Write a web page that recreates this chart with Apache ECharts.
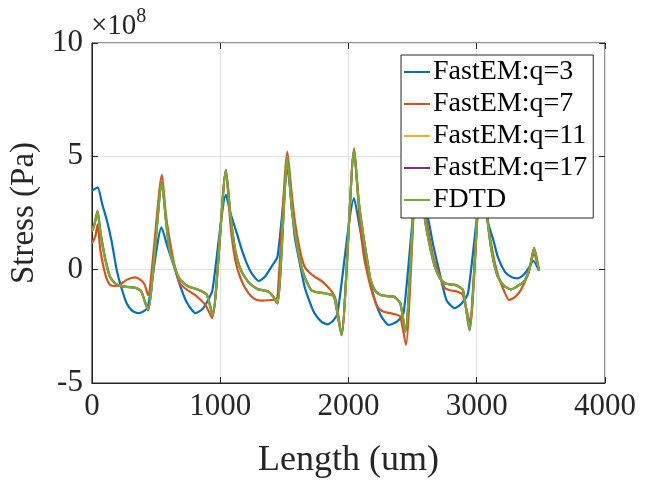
<!DOCTYPE html>
<html>
<head>
<meta charset="utf-8">
<script src="https://cdn.jsdelivr.net/npm/echarts@6.0.0/dist/echarts.min.js"></script>
<style>
  html, body { margin: 0; padding: 0; background: #fff; }
  #chart { width: 649px; height: 485px; }
</style>
</head>
<body>
<div id="chart"></div>
<script>
// 应力沿长度分布：FastEM 不同阶数 q 与 FDTD 对比，纵轴单位 ×10^8 Pa
const xTicks = [0, 1000, 2000, 3000, 4000];
const yTicks = [-5, 0, 5, 10];

const seriesNames = ['FastEM:q=3', 'FastEM:q=7', 'FastEM:q=11', 'FastEM:q=17', 'FDTD'];
const seriesColors = ['#0072BD', '#D95319', '#EDB120', '#7E2F8E', '#77AC30'];

// [长度 um, 应力 ×1e8 Pa]
const q3Data = [
  [0, 3.48], [45, 3.63], [80, 2.9], [116, 2.19], [152, 1.3], [193, 0], [230, -0.8], [270, -1.47],
  [315, -1.82], [358, -1.92], [400, -1.85], [437, -1.63], [543, 1.87], [590, 1.0], [641, 0.13],
  [690, -0.75], [740, -1.45], [808, -1.92], [860, -1.75], [905, -1.35], [940, -0.9], [1045, 3.3],
  [1080, 2.5], [1130, 1.6], [1170, 0.85], [1207, 0.28], [1250, -0.2], [1302, -0.5], [1350, -0.3],
  [1400, 0.13], [1447, 0.57], [1525, 4.4], [1581, 1.46], [1620, 0.3], [1658, -0.75], [1700, -1.45],
  [1735, -1.92], [1790, -2.3], [1838, -2.41], [1880, -2.25], [1915, -1.92], [2044, 3.15], [2090, 1.8],
  [2121, 0.87], [2160, -0.3], [2198, -1.19], [2250, -2.0], [2314, -2.44], [2378, -2.29], [2430, -1.92],
  [2540, 3.8], [2580, 3.0], [2623, 2.19], [2660, 1.1], [2700, 0.13], [2764, -1.34], [2829, -1.7],
  [2880, -1.5], [2932, -1.04], [3040, 3.6], [3087, 2.1], [3130, 1.3], [3164, 0.57], [3220, -0.1],
  [3270, -0.32], [3318, -0.38], [3370, -0.2], [3408, 0.1], [3440, 0.4], [3485, -0.04],
];

const q7Data = [
  [0, 1.16], [26, 1.46], [44, 2.0], [65, 0.9], [90, 0.13], [115, -0.4], [141, -0.67], [180, -0.72],
  [219, -0.67], [270, -0.45], [335, -0.34], [380, -0.45], [412, -0.67], [437, -1.12], [546, 4.18],
  [575, 2.5], [602, 1.46], [640, 0.3], [680, -0.55], [720, -0.8], [757, -0.95], [800, -1.1],
  [834, -1.26], [886, -1.56], [937, -2.14], [1045, 4.4], [1080, 2.0], [1117, 0.43], [1160, -0.4],
  [1220, -1.04], [1270, -1.3], [1323, -1.37], [1380, -1.35], [1426, -1.31], [1447, -1.2], [1524, 5.21],
  [1555, 3.5], [1581, 2.19], [1620, 0.9], [1658, 0.13], [1700, -0.15], [1735, -0.31], [1790, -0.5],
  [1838, -0.75], [1875, -1.0], [1902, -1.34], [1946, -2.88], [2044, 5.3], [2090, 2.0], [2120, 0.6],
  [2147, -0.16], [2180, -0.9], [2224, -1.63], [2270, -1.85], [2327, -1.92], [2370, -1.98], [2404, -2.07],
  [2448, -3.32], [2540, 5.2], [2580, 3.2], [2620, 1.8], [2660, 0.6], [2700, -0.1], [2750, -0.8],
  [2800, -0.92], [2840, -0.95], [2890, -1.1], [2944, -2.3], [3040, 5.0], [3090, 2.0], [3130, 0.6],
  [3164, -0.2], [3210, -0.9], [3253, -1.34], [3300, -1.2], [3344, -0.9], [3400, -0.2], [3445, 0.7],
  [3485, 0],
];

const q11Data = [
  [0, 1.7], [20, 2.02], [44, 2.62], [65, 1.72], [90, 0.88], [115, 0.2], [141, -0.3], [180, -0.6],
  [219, -0.71], [270, -0.75], [322, -0.77], [360, -0.84], [386, -0.96], [437, -1.8], [546, 3.9],
  [575, 2.32], [602, 1.0], [640, 0.2], [680, -0.37], [720, -0.61], [757, -0.74], [800, -0.82],
  [834, -0.89], [870, -0.99], [898, -1.11], [942, -2.02], [1045, 4.42], [1080, 2.42], [1117, 0.88],
  [1160, 0], [1220, -0.54], [1260, -0.74], [1297, -0.86], [1340, -0.91], [1375, -0.96], [1413, -1.18],
  [1447, -1.5], [1524, 4.98], [1560, 2.62], [1606, 0.88], [1650, -0.2], [1709, -0.89], [1760, -0.99],
  [1812, -1.03], [1860, -1.09], [1889, -1.18], [1946, -2.9], [2044, 5.38], [2080, 3.02], [2121, 1.32],
  [2150, 0.3], [2172, -0.44], [2210, -0.94], [2250, -1.11], [2300, -1.16], [2353, -1.18], [2404, -1.47],
  [2443, -2.75], [2540, 5.05], [2570, 3.62], [2597, 2.2], [2640, 0.9], [2674, 0.13], [2710, -0.34],
  [2751, -0.59], [2790, -0.64], [2829, -0.66], [2860, -0.74], [2893, -0.89], [2944, -2.68], [3040, 5.05],
  [3080, 2.42], [3120, 0.7], [3164, -0.3], [3210, -0.69], [3266, -0.86], [3320, -0.71], [3369, -0.52],
  [3410, 0], [3447, 0.96], [3485, -0.04],
];

const q17Data = [
  [0, 1.68], [20, 2.0], [44, 2.57], [65, 1.7], [90, 0.87], [115, 0.2], [141, -0.31], [180, -0.6],
  [219, -0.72], [270, -0.76], [322, -0.78], [360, -0.85], [386, -0.97], [437, -1.79], [546, 3.84],
  [575, 2.3], [602, 1.0], [640, 0.2], [680, -0.38], [720, -0.62], [757, -0.75], [800, -0.83],
  [834, -0.9], [870, -1.0], [898, -1.12], [942, -2.01], [1045, 4.38], [1080, 2.4], [1117, 0.87],
  [1160, 0], [1220, -0.55], [1260, -0.75], [1297, -0.87], [1340, -0.92], [1375, -0.97], [1413, -1.19],
  [1447, -1.49], [1524, 4.93], [1560, 2.6], [1606, 0.87], [1650, -0.2], [1709, -0.9], [1760, -1.0],
  [1812, -1.04], [1860, -1.1], [1889, -1.19], [1946, -2.89], [2044, 5.31], [2080, 3.0], [2121, 1.31],
  [2150, 0.3], [2172, -0.45], [2210, -0.95], [2250, -1.12], [2300, -1.17], [2353, -1.19], [2404, -1.48],
  [2443, -2.74], [2540, 5.0], [2570, 3.6], [2597, 2.19], [2640, 0.9], [2674, 0.13], [2710, -0.35],
  [2751, -0.6], [2790, -0.65], [2829, -0.67], [2860, -0.75], [2893, -0.9], [2944, -2.67], [3040, 5.0],
  [3080, 2.4], [3120, 0.7], [3164, -0.31], [3210, -0.7], [3266, -0.87], [3320, -0.72], [3369, -0.53],
  [3410, 0], [3447, 0.95], [3485, -0.04],
];

const fdtdData = [
  [0, 1.68], [20, 2.0], [44, 2.56], [65, 1.7], [90, 0.87], [115, 0.2], [141, -0.31], [180, -0.6],
  [219, -0.72], [270, -0.76], [322, -0.78], [360, -0.85], [386, -0.97], [437, -1.78], [546, 3.81],
  [575, 2.3], [602, 1.0], [640, 0.2], [680, -0.38], [720, -0.62], [757, -0.75], [800, -0.83],
  [834, -0.9], [870, -1.0], [898, -1.12], [942, -2.0], [1045, 4.37], [1080, 2.4], [1117, 0.87],
  [1160, 0], [1220, -0.55], [1260, -0.75], [1297, -0.87], [1340, -0.92], [1375, -0.97], [1413, -1.19],
  [1447, -1.48], [1524, 4.91], [1560, 2.6], [1606, 0.87], [1650, -0.2], [1709, -0.9], [1760, -1.0],
  [1812, -1.04], [1860, -1.1], [1889, -1.19], [1946, -2.88], [2044, 5.28], [2080, 3.0], [2121, 1.31],
  [2150, 0.3], [2172, -0.45], [2210, -0.95], [2250, -1.12], [2300, -1.17], [2353, -1.19], [2404, -1.48],
  [2443, -2.73], [2540, 5.0], [2570, 3.6], [2597, 2.19], [2640, 0.9], [2674, 0.13], [2710, -0.35],
  [2751, -0.6], [2790, -0.65], [2829, -0.67], [2860, -0.75], [2893, -0.9], [2944, -2.66], [3040, 5.0],
  [3080, 2.4], [3120, 0.7], [3164, -0.31], [3210, -0.7], [3266, -0.87], [3320, -0.72], [3369, -0.53],
  [3410, 0], [3447, 0.94], [3485, -0.04],
];

const allData = [q3Data, q7Data, q11Data, q17Data, fdtdData];

const FONT = 'Liberation Serif';
const AX = '#262626';

const chart = echarts.init(document.getElementById('chart'), null, { renderer: 'canvas' });

// 顶部 / 右侧只画向内的刻度（MATLAB box on）
const boxAxis = {
  axisLine: { show: false, onZero: false },
  axisTick: { show: true, inside: true, length: 6, lineStyle: { color: AX } },
  axisLabel: { show: false },
  splitLine: { show: false },
};

chart.setOption({
  animation: false,
  backgroundColor: '#fff',
  grid: {
    left: 87, right: 44, top: 43, bottom: 102,
    show: true, borderColor: AX, borderWidth: 1, backgroundColor: 'transparent',
  },
  graphic: [{
    type: 'text', left: 91, top: 7,
    style: {
      text: '{a|×10}{b|8}',
      rich: {
        a: { fontFamily: FONT, fontSize: 29, fill: AX, verticalAlign: 'bottom' },
        b: { fontFamily: FONT, fontSize: 20, fill: AX, verticalAlign: 'top', padding: [0, 0, 14, 0] },
      },
    },
  }],
  legend: {
    orient: 'vertical',
    left: 401, top: 55,
    z: 20,
    padding: [3, 6, 4, 3],
    itemGap: 4,
    itemWidth: 26, itemHeight: 2,
    icon: 'rect',
    backgroundColor: '#fff',
    borderColor: AX, borderWidth: 1,
    textStyle: { fontFamily: FONT, fontSize: 28, color: '#000', lineHeight: 28, padding: [0, 0, 0, -2] },
    data: seriesNames,
  },
  xAxis: [{
    type: 'value', min: 0, max: 4000, interval: 1000,
    name: 'Length (um)', nameLocation: 'middle', nameGap: 60,
    nameTextStyle: { fontFamily: FONT, fontSize: 36, color: AX },
    axisLine: { show: true, onZero: false, lineStyle: { color: AX } },
    axisTick: { show: true, inside: true, length: 6, lineStyle: { color: AX } },
    axisLabel: {
      fontFamily: FONT, fontSize: 31, color: AX, margin: 8,
      customValues: xTicks,
      formatter: v => String(v),
    },
    splitLine: { show: true, lineStyle: { color: '#e3e3e3' } },
  }, Object.assign({ type: 'value', position: 'top', min: 0, max: 4000, interval: 1000 }, boxAxis)],
  yAxis: [{
    type: 'value', min: -5, max: 10, interval: 5,
    name: 'Stress (Pa)', nameLocation: 'middle', nameGap: 50,
    nameTextStyle: { fontFamily: FONT, fontSize: 33, color: AX },
    axisLine: { show: true, onZero: false, lineStyle: { color: AX } },
    axisTick: { show: true, inside: true, length: 6, lineStyle: { color: AX } },
    axisLabel: {
      fontFamily: FONT, fontSize: 31, color: AX, margin: 9,
      customValues: yTicks,
      formatter: v => String(v),
    },
    splitLine: { show: true, lineStyle: { color: '#e3e3e3' } },
  }, Object.assign({ type: 'value', position: 'right', min: -5, max: 10, interval: 5 }, boxAxis)],
  series: allData.map((d, i) => ({
    name: seriesNames[i],
    type: 'line',
    data: d,
    symbol: 'none',
    smooth: 0.2,
    color: seriesColors[i],
    lineStyle: { width: 2.2, color: seriesColors[i] },
  })),
});
</script>
</body>
</html>
